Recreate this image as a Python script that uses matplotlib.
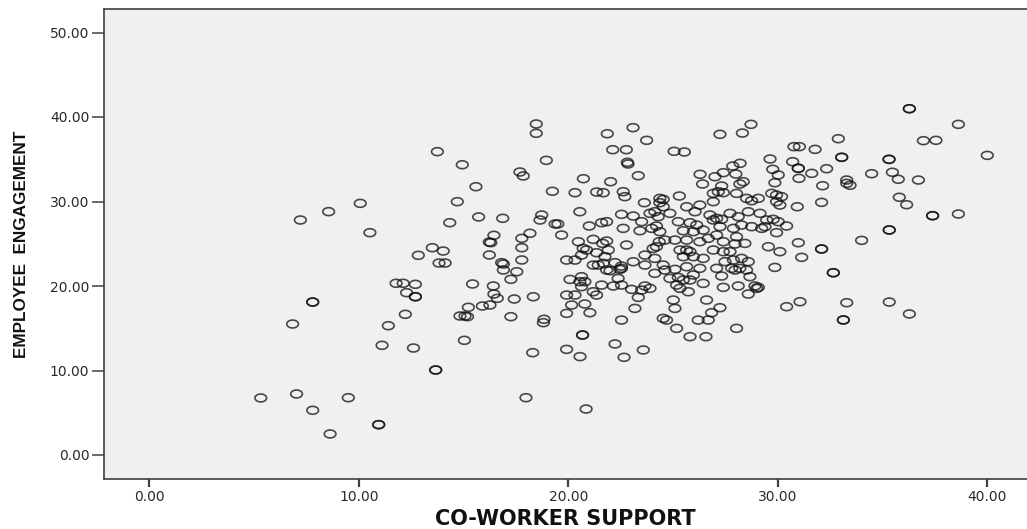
import numpy as np
import matplotlib
matplotlib.use("Agg")
import matplotlib.pyplot as plt
from matplotlib.path import Path

# ---------------- data ----------------
support = [
    # sparse left part
    13.75, 14.94, 14.70, 10.07, 8.56, 7.21, 10.53, 14.34, 13.51, 14.03, 12.84, 13.83, 14.12,
    11.78, 12.12, 12.70, 12.28, 12.70, 12.70, 15.23, 12.22, 11.41, 14.83, 15.07, 15.19,
    7.8, 7.8, 6.84, 11.11, 12.61, 15.04, 13.67, 13.67, 5.32, 7.03, 9.5, 7.8, 10.95, 10.95, 8.63,
    # upper middle
    18.47, 18.47, 23.09, 21.86, 23.74, 22.12, 22.77, 25.05, 25.54, 18.95, 22.82, 22.85,
    17.69, 17.85, 23.34, 20.72, 26.29, 15.59, 19.24, 15.72, 16.87, 18.73, 18.65, 19.37, 19.5,
    16.45, 16.3, 16.23, 18.17, 17.78, 16.23, 17.78, 17.78, 16.82, 16.9, 16.9, 17.54,
    # lower middle
    15.43, 16.42, 17.26, 16.45, 16.61, 17.42, 18.33, 15.9, 16.26, 17.26, 18.84, 18.81,
    18.3, 17.98, 20.85, 22.23, 19.92, 20.56, 22.66, 23.58,
    # right part
    36.28, 36.28, 38.62, 36.95, 37.55, 40.0, 28.72, 27.24, 28.31, 32.89, 30.77, 31.03, 31.78,
    33.05, 33.05, 35.31, 35.31, 29.63, 30.71, 30.98, 30.98, 32.33, 29.76, 28.2, 27.85, 27.4,
    27.0, 28.0, 30.02, 31.62, 34.48, 35.47, 35.75, 36.71, 31.01, 33.29, 33.29, 33.45, 32.14,
    35.8, 36.15, 32.09, 37.39, 37.39, 38.62, 35.32, 35.32, 34.0, 32.09, 32.09, 32.65, 32.65,
    33.29, 35.32, 36.28, 33.13, 33.13,
    # dense centre (left half)
    22.02, 20.32, 21.35, 21.67, 22.62, 22.70, 24.37, 24.53, 25.30, 23.63, 24.37, 24.53, 20.55,
    22.54, 23.10, 23.90, 24.13, 24.29, 24.85, 21.59, 21.83, 21.0, 22.62, 23.5, 23.42, 23.98,
    24.21, 24.37, 25.25, 25.49, 19.68, 20.48, 21.19, 21.83, 21.64, 22.78, 24.34, 24.61, 25.09,
    24.05, 24.21, 20.71, 20.87, 21.35, 21.91, 19.92, 20.32, 20.63, 21.75, 21.67, 21.19, 21.43,
    22.23, 22.54, 23.10, 23.66, 24.13, 24.53, 25.33, 25.49, 21.83, 21.99, 22.46, 22.54, 23.66,
    24.61, 25.09, 20.08, 20.63, 20.55, 20.79, 22.38, 24.13, 24.85, 25.25, 25.49, 20.63, 21.59,
    22.15, 22.54, 23.02, 23.5, 23.66, 23.9, 21.19, 21.35, 19.92, 20.32, 25.17, 25.33, 23.34,
    20.16, 20.79, 25.01, 25.09, 23.18, 19.92, 21.03, 22.54, 24.53, 24.69, 25.17, 20.68, 20.68,
    # dense centre (right half)
    26.41, 27.32, 28.19, 28.35, 29.86, 26.92, 27.16, 27.4, 28.03, 28.51, 28.75, 29.07, 29.71,
    29.94, 30.18, 29.94, 30.1, 30.93, 25.65, 26.28, 26.05, 26.92, 26.76, 27.08, 27.32, 26.92,
    27.72, 28.11, 28.59, 29.15, 29.47, 29.78, 30.02, 30.42, 25.81, 26.13, 25.97, 26.44, 27.24,
    27.88, 28.27, 28.75, 29.23, 29.39, 29.94, 25.65, 26.28, 26.68, 27.08, 27.4, 28.03, 28.43,
    27.96, 29.55, 30.1, 30.98, 31.14, 25.65, 25.81, 25.97, 26.44, 26.92, 27.4, 27.72, 27.88,
    27.48, 28.27, 28.59, 26.28, 25.65, 29.86, 27.08, 27.8, 27.96, 28.19, 28.51, 28.67, 27.32,
    25.97, 25.81, 26.44, 28.91, 29.07, 28.99, 28.11, 27.4, 28.59, 25.73, 26.6, 27.24, 26.84,
    26.2, 26.68, 30.42, 31.06, 28.03, 25.81, 26.57,
]

engagement = [
    35.9, 34.35, 29.98, 29.78, 28.80, 27.81, 26.31, 27.49, 24.53, 24.14, 23.63, 22.72, 22.72,
    20.32, 20.32, 20.2, 19.21, 18.73, 18.73, 17.48, 16.65, 15.3, 16.45, 16.45, 16.37,
    18.1, 18.1, 15.5, 12.98, 12.66, 13.57, 10.06, 10.06, 6.75, 7.22, 6.78, 5.29, 3.59, 3.59, 2.49,
    39.17, 38.07, 38.74, 38.02, 37.24, 36.13, 36.13, 35.94, 35.86, 34.87, 34.64, 34.44,
    33.49, 33.02, 33.05, 32.7, 33.22, 31.75, 31.21, 28.17, 28.01, 28.4, 27.81, 27.34, 27.34,
    26.0, 25.13, 25.2, 26.24, 25.64, 23.67, 24.53, 23.08, 22.76, 22.6, 21.89, 21.69,
    20.24, 20.0, 20.79, 19.05, 18.54, 18.46, 18.73, 17.63, 17.75, 16.37, 16.06, 15.66,
    12.11, 6.78, 5.44, 13.14, 12.5, 11.64, 11.56, 12.43,
    40.98, 40.98, 39.13, 37.2, 37.24, 35.46, 39.13, 37.95, 38.1, 37.43, 36.49, 36.49, 36.17,
    35.23, 35.23, 34.99, 34.99, 35.03, 34.71, 33.93, 33.93, 33.88, 33.81, 34.52, 34.2, 33.41,
    32.93, 33.25, 33.14, 33.33, 33.29, 33.46, 32.63, 32.54, 32.74, 32.54, 32.15, 31.92, 31.87,
    30.5, 29.62, 29.9, 28.32, 28.32, 28.52, 26.63, 26.63, 25.4, 24.38, 24.38, 21.57, 21.57,
    18.02, 18.1, 16.69, 15.98, 15.98,
    32.34, 31.04, 31.12, 31.04, 31.16, 30.57, 30.37, 30.25, 30.65, 29.86, 29.86, 29.38, 28.79,
    28.48, 28.28, 28.6, 28.79, 28.2, 28.6, 27.49, 27.61, 27.1, 26.82, 27.61, 26.54, 26.82,
    27.1, 26.43, 27.61, 26.54, 26.03, 25.24, 25.52, 25.32, 25.04, 24.85, 25.24, 25.44, 25.44,
    24.45, 24.65, 24.45, 24.26, 23.94, 24.26, 23.07, 23.07, 23.66, 23.47, 22.68, 22.48, 22.48,
    22.76, 22.36, 22.87, 23.66, 23.27, 22.48, 24.26, 23.47, 21.89, 21.81, 21.97, 22.09, 22.48,
    21.89, 21.97, 20.78, 21.1, 20.51, 20.51, 20.9, 21.5, 20.9, 21.02, 20.71, 19.92, 20.11,
    20.0, 20.11, 19.6, 19.52, 20.0, 19.72, 19.32, 18.93, 18.93, 18.93, 20.11, 19.72, 18.65,
    17.75, 17.87, 18.34, 17.35, 17.35, 16.76, 16.84, 15.97, 16.17, 15.97, 14.99, 14.2, 14.2,
    32.07, 31.83, 32.07, 32.34, 32.22, 30.96, 31.16, 31.04, 30.96, 30.37, 30.09, 30.37, 30.96,
    30.76, 30.57, 29.98, 29.58, 29.38, 29.38, 29.58, 28.79, 29.98, 28.4, 28.0, 27.89, 27.81,
    28.6, 28.2, 28.79, 28.6, 27.81, 27.89, 27.61, 27.1, 27.49, 27.21, 26.43, 26.62, 27.02,
    26.82, 27.21, 27.02, 26.82, 27.02, 26.31, 25.44, 25.24, 25.64, 26.03, 25.24, 25.83, 25.04,
    24.97, 24.65, 24.06, 25.12, 23.39, 24.26, 24.06, 23.47, 23.27, 24.26, 24.06, 24.06, 23.07,
    22.88, 23.27, 22.88, 22.09, 22.28, 22.2, 22.09, 22.09, 21.89, 22.09, 21.89, 21.1, 21.18,
    21.3, 20.71, 20.31, 20.0, 19.84, 19.72, 20.0, 19.84, 19.05, 19.32, 18.34, 17.43, 16.84,
    15.97, 15.97, 17.55, 18.14, 14.99, 14.0, 14.0,
]

x_ticks = [0, 10, 20, 30, 40]
y_ticks = [0, 10, 20, 30, 40, 50]
x_title = "CO-WORKER SUPPORT"
y_title = "EMPLOYEE  ENGAGEMENT"

# ---------------- figure ----------------
W, H = 1027, 529
fig = plt.figure(figsize=(W / 100, H / 100), dpi=100)
fig.patch.set_facecolor("white")

left_px, right_px, top_px, bottom_px = 104, 1027, 9, 479
ax = fig.add_axes([left_px / W, 1 - bottom_px / H,
                   (right_px - left_px) / W, (bottom_px - top_px) / H])
ax.set_facecolor("#f0f0f0")

# data -> pixel mapping of the reference: x0 at 149.3 px, 20.95 px/unit; y0 at 455 px, 8.45 px/unit
ax.set_xlim((left_px - 149.3) / 20.95, (right_px - 149.3) / 20.95)
ax.set_ylim((455 - bottom_px) / 8.45, (455 - top_px) / 8.45)

# elliptical open marker (the reference circles are horizontally stretched)
t = np.linspace(0, 2 * np.pi, 64)
ell = Path(np.column_stack([np.cos(t), 0.68 * np.sin(t)]), closed=True)

ax.scatter(support, engagement, s=70, marker=ell, facecolors="none",
           edgecolors=(0.06, 0.06, 0.06, 0.75), linewidths=1.2, zorder=3)

ax.set_xticks(x_ticks)
ax.set_yticks(y_ticks)
ax.set_xticklabels([f"{v:.2f}" for v in x_ticks])
ax.set_yticklabels([f"{v:.2f}" for v in y_ticks])

for side in ("left", "bottom", "top"):
    ax.spines[side].set_color("#404040")
    ax.spines[side].set_linewidth(1.2)
ax.spines["right"].set_visible(False)

ax.tick_params(axis="y", direction="out", length=9, width=1.1, color="#404040",
               labelcolor="#2a2a2a", labelsize=10, pad=1.5)
ax.tick_params(axis="x", direction="out", length=6, width=1.6, color="#404040",
               labelcolor="#2a2a2a", labelsize=10, pad=2)
for lab in ax.get_xticklabels() + ax.get_yticklabels():
    lab.set_family("DejaVu Sans")

ax.set_xlabel(x_title, fontsize=15, fontweight="bold", color="#111111",
              family=["DejaVu Sans"], va="center")
ax.xaxis.set_label_coords(0.5, (bottom_px - 519) / (bottom_px - top_px))

ax.set_ylabel(y_title, fontsize=12.3, fontweight="bold", color="#111111",
              family=["Liberation Sans", "DejaVu Sans"], va="center")
ax.yaxis.set_label_coords((22 - left_px) / (right_px - left_px), 0.5)

fig.savefig("out.png", dpi=100, facecolor="white")
